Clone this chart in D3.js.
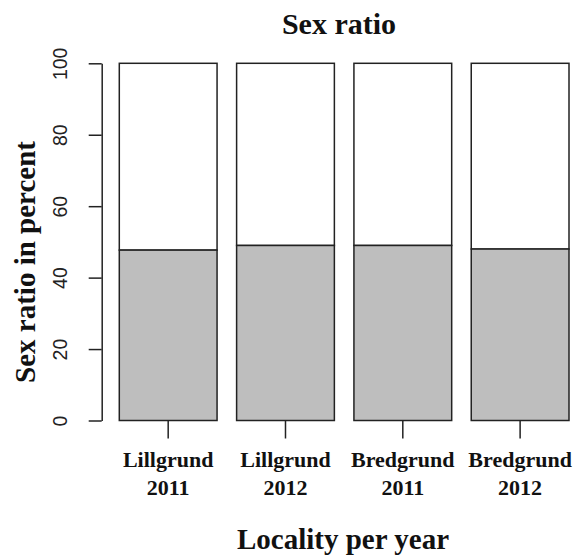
<!DOCTYPE html>
<html>
<head>
<meta charset="utf-8">
<script src="https://cdn.jsdelivr.net/npm/d3@7"></script>
<style>
  html, body { margin: 0; padding: 0; background: #fff; }
</style>
</head>
<body>
<div id="chart"></div>
<script>
// Data
const localities = ['Lillgrund', 'Lillgrund', 'Bredgrund', 'Bredgrund'];
const years = ['2011', '2012', '2011', '2012'];
const lowerShare = [47.7, 49.0, 49.0, 48.0];   // grey part of each bar (%)
const yTicks = [0, 20, 40, 60, 80, 100];

const width = 577, height = 556;
const serif = '"Liberation Serif", "Times New Roman", serif';
const sans = '"Liberation Sans", Arial, sans-serif';

const svg = d3.select('#chart').append('svg')
    .attr('width', width)
    .attr('height', height);

const keys = localities.map((d, i) => d + ' ' + years[i]);

const x = d3.scaleBand()
    .domain(keys)
    .range([119.3, 569])
    .paddingInner(1 / 6)
    .paddingOuter(0);

const y = d3.scaleLinear()
    .domain([0, 100])
    .range([420.5, 63.3]);

const rows = keys.map((k, i) => ({ key: k, low: lowerShare[i] }));

// upper (white) part
svg.selectAll('.upper')
    .data(rows)
    .enter().append('rect')
    .attr('class', 'upper')
    .attr('x', d => x(d.key))
    .attr('width', x.bandwidth())
    .attr('y', y(100))
    .attr('height', d => y(d.low) - y(100))
    .attr('fill', '#fff')
    .attr('stroke', '#222')
    .attr('stroke-width', 1.5);

// lower (grey) part
svg.selectAll('.lower')
    .data(rows)
    .enter().append('rect')
    .attr('class', 'lower')
    .attr('x', d => x(d.key))
    .attr('width', x.bandwidth())
    .attr('y', d => y(d.low))
    .attr('height', d => y(0) - y(d.low))
    .attr('fill', '#bebebe')
    .attr('stroke', '#222')
    .attr('stroke-width', 1.5);

// y axis
const yAxis = svg.append('g')
    .attr('transform', 'translate(101.7,0)')
    .call(d3.axisLeft(y).tickValues(yTicks).tickSize(13).tickSizeOuter(0).tickPadding(0).tickFormat(d3.format('d')));
yAxis.select('.domain').attr('stroke', '#222').attr('stroke-width', 1.5);
yAxis.selectAll('.tick line').attr('stroke', '#222').attr('stroke-width', 1.5);
yAxis.selectAll('.tick text')
    .attr('x', 0)
    .attr('dy', 0)
    .attr('transform', 'translate(-35,0) rotate(-90)')
    .attr('text-anchor', 'middle')
    .attr('font-family', sans)
    .attr('font-size', 19.5)
    .attr('fill', '#222');

// x ticks (no axis line)
const xAxis = svg.append('g')
    .attr('transform', `translate(0,${y(0)})`)
    .call(d3.axisBottom(x).tickSize(18).tickSizeOuter(0).tickFormat(''));
xAxis.select('.domain').remove();
xAxis.selectAll('.tick line').attr('stroke', '#222').attr('stroke-width', 1.5);

svg.selectAll('.xlab')
    .data(rows)
    .enter().append('text')
    .attr('class', 'xlab')
    .attr('x', d => x(d.key) + x.bandwidth() / 2)
    .attr('y', 467)
    .attr('text-anchor', 'middle')
    .attr('font-family', serif)
    .attr('font-weight', 'bold')
    .attr('font-size', 22)
    .attr('fill', '#111')
    .each(function(d, i) {
        const t = d3.select(this);
        t.append('tspan').attr('x', x(d.key) + x.bandwidth() / 2).text(localities[i]);
        t.append('tspan').attr('x', x(d.key) + x.bandwidth() / 2).attr('dy', 28).text(years[i]);
    });

// title and axis titles
svg.append('text')
    .attr('x', 339)
    .attr('y', 34)
    .attr('text-anchor', 'middle')
    .attr('font-family', serif)
    .attr('font-weight', 'bold')
    .attr('font-size', 30)
    .attr('fill', '#111')
    .text('Sex ratio');

svg.append('text')
    .attr('transform', 'translate(35,262) rotate(-90)')
    .attr('text-anchor', 'middle')
    .attr('font-family', serif)
    .attr('font-weight', 'bold')
    .attr('font-size', 29)
    .attr('fill', '#111')
    .text('Sex ratio in percent');

svg.append('text')
    .attr('x', 343)
    .attr('y', 549)
    .attr('text-anchor', 'middle')
    .attr('font-family', serif)
    .attr('font-weight', 'bold')
    .attr('font-size', 29)
    .attr('fill', '#111')
    .text('Locality per year');
</script>
</body>
</html>
